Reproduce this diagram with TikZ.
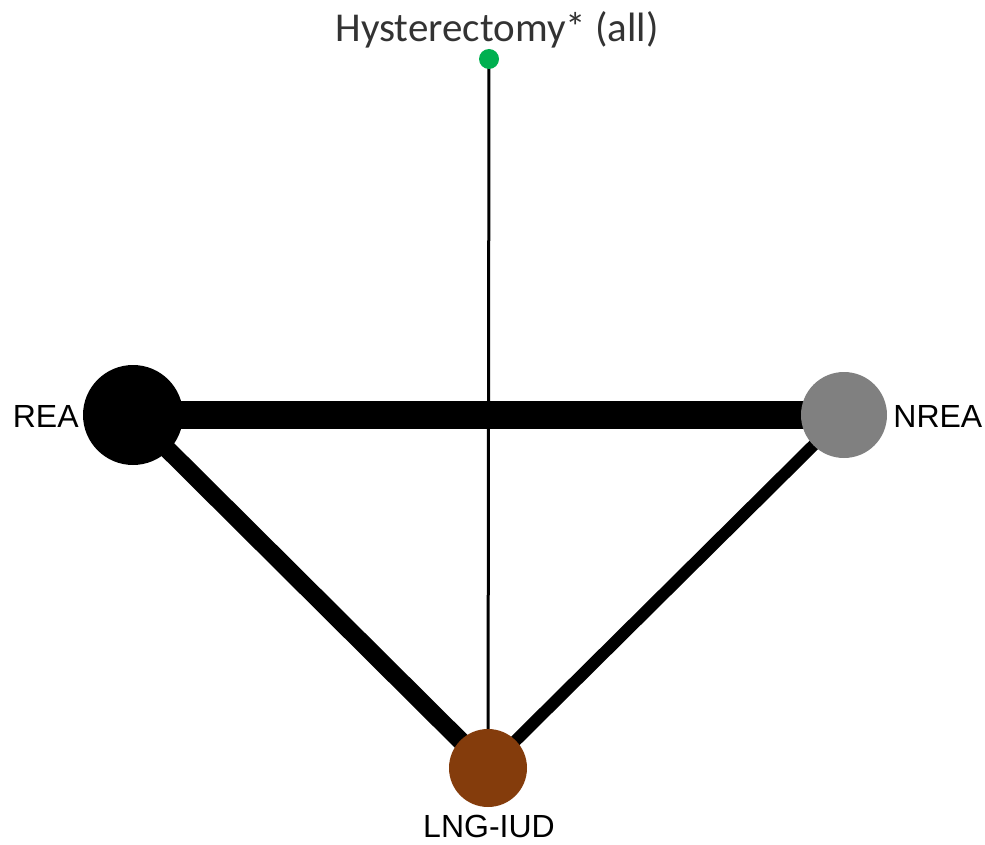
\documentclass[tikz,border=0pt]{standalone}
\usepackage{fontspec}
\setmainfont{Liberation Sans}
\newfontfamily\carlito{Carlito}
\usetikzlibrary{backgrounds}
\definecolor{dotgreen}{RGB}{0,176,80}
\definecolor{iudbrown}{RGB}{132,60,12}
\begin{document}
\begin{tikzpicture}[x=0.5pt,y=-0.5pt,
  trt/.style={circle,inner sep=0pt,draw=none},
  lab/.style={inner sep=0pt,font=\fontsize{16}{18}\selectfont}]
\useasboundingbox (0,0) rectangle (985,845);
\node[trt,fill=dotgreen,minimum size=10pt] (hyst) at (489,59) {};
\node[trt,fill=black,minimum size=50pt] (rea) at (133,415) {};
\node[trt,fill=gray,minimum size=43pt] (nrea) at (844,415) {};
\node[trt,fill=iudbrown,minimum size=39pt] (lng) at (488,768) {};
\begin{scope}[on background layer]
\draw[line width=14pt] (rea.center) -- (nrea.center);
\draw[line width=9pt] (rea.center) -- (lng.center);
\draw[line width=6pt] (nrea.center) -- (lng.center);
\draw[line width=1.5pt] (hyst.center) -- (lng.center);
\end{scope}
\node[inner sep=0pt,anchor=base,font=\carlito\fontsize{20.5}{22}\selectfont,text=black!80] (hystlab) at (497,42) {Hysterectomy* (all)};
\node[lab,anchor=east] (realab) at (79,416) {REA};
\node[lab,anchor=west] (nrealab) at (893,416) {NREA};
\node[lab,anchor=north] (lnglab) at (489,815) {LNG-IUD};
\end{tikzpicture}
\end{document}
